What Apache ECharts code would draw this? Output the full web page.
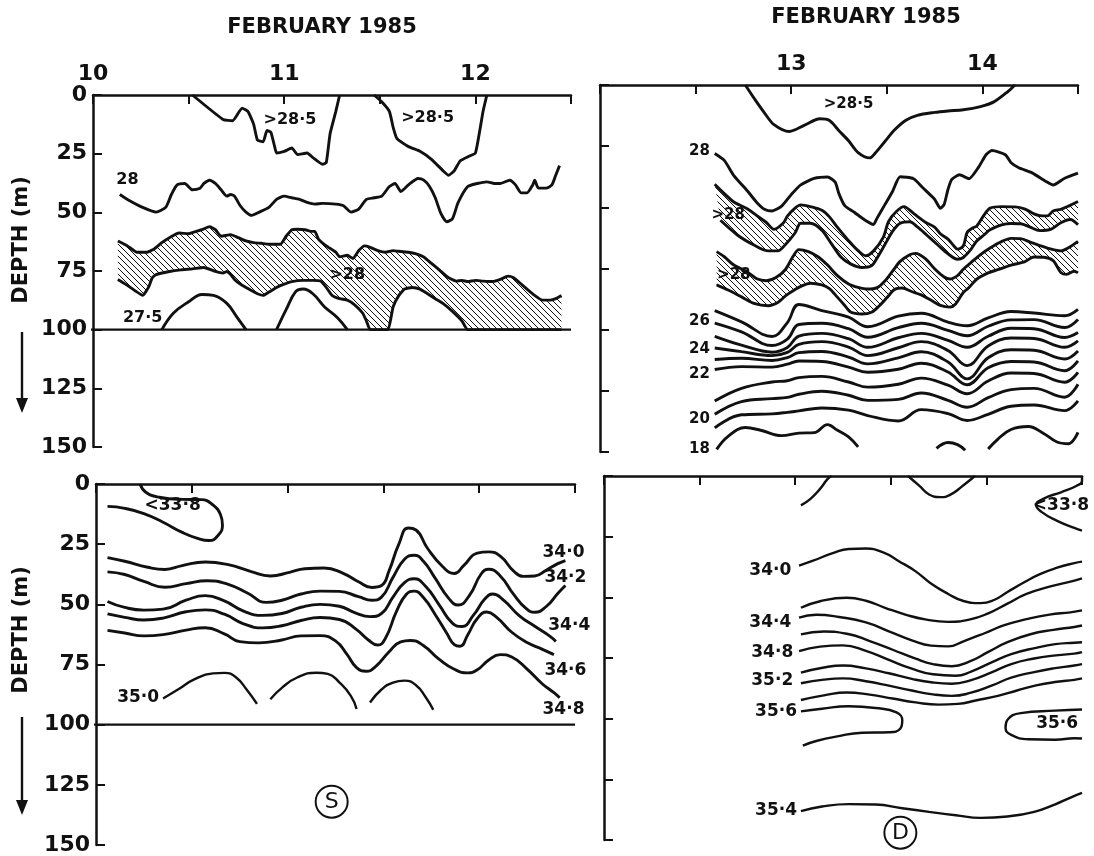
<!DOCTYPE html>
<html><head><meta charset="utf-8">
<script src="https://cdn.jsdelivr.net/npm/echarts/dist/echarts.min.js"></script>
<style>html,body{margin:0;padding:0;background:#fff}#c{width:1094px;height:856px}</style>
</head><body><div id="c"></div>
<script>
// ---------- tick labels ----------
const S_DAY_LABELS = ['10','11','12'];
const D_DAY_LABELS = ['13','14'];
const TITLE = 'FEBRUARY 1985';
const DEPTH_NAME = 'DEPTH (m)';

// ---------- Station S, temperature (Feb 10-12.5) ----------
const S_T285_A = [[10.52,0],[10.68,10.4],[10.73,11],[10.78,5.6],[10.81,7],[10.84,12.4],[10.86,19.2],[10.89,19.9],[10.91,15.1],[10.93,15.8],[10.95,22],[10.96,24.7],[11.00,24],[11.04,22.6],[11.07,25.4],[11.12,24.7],[11.15,26.7],[11.20,29.5],[11.22,28.8],[11.24,16.5],[11.27,7],[11.29,0]];
const S_T285_B = [[11.47,0],[11.51,2.9],[11.55,7],[11.57,13.8],[11.59,18.6],[11.65,22],[11.71,24],[11.77,27.4],[11.83,32.2],[11.86,34.2],[11.89,32.2],[11.92,28.1],[11.97,26],[12.00,24.7],[12.02,16.5],[12.04,7],[12.06,0]];
const S_T28 = [[10.14,42.4],[10.18,44.5],[10.26,47.9],[10.33,49.9],[10.38,47.9],[10.41,42.4],[10.44,38.3],[10.48,37.7],[10.52,40.4],[10.56,39.7],[10.58,37.7],[10.61,36.3],[10.64,37.7],[10.67,40.4],[10.70,43.1],[10.72,42.4],[10.74,43.1],[10.77,47.2],[10.80,49.9],[10.83,51.3],[10.87,49.9],[10.92,47.9],[10.96,44.5],[11.00,43.1],[11.04,43.8],[11.08,44.5],[11.12,45.8],[11.16,46.5],[11.20,46.2],[11.27,46.5],[11.31,47.2],[11.35,49.9],[11.39,48.6],[11.43,44.5],[11.47,43.8],[11.51,43.1],[11.55,39],[11.58,37.7],[11.61,41.1],[11.65,38.3],[11.70,35.6],[11.73,36.3],[11.76,39],[11.79,43.8],[11.82,50.6],[11.85,54],[11.88,52.7],[11.91,45.8],[11.96,39],[12.01,37.7],[12.06,37],[12.10,37.7],[12.13,37.7],[12.18,36.3],[12.21,38.3],[12.24,41.7],[12.27,41.7],[12.30,38.3],[12.31,36.3],[12.33,39.7],[12.37,39.7],[12.40,38.3],[12.42,34.2],[12.44,30.1]];
const S_BAND_UP = [[10.13,62.2],[10.18,64.3],[10.23,67],[10.28,67],[10.32,65.6],[10.36,62.9],[10.40,60.8],[10.45,58.8],[10.50,59.1],[10.54,58.1],[10.57,57.4],[10.61,56.1],[10.64,57.4],[10.67,60.2],[10.72,59.5],[10.76,60.8],[10.80,62.2],[10.84,62.9],[10.88,63.2],[10.92,63.6],[10.98,63.6],[11.01,60.2],[11.04,57.4],[11.07,57.2],[11.11,57.4],[11.14,58.1],[11.16,58.1],[11.18,61.5],[11.22,64.3],[11.27,67],[11.29,69],[11.33,68.3],[11.36,69.7],[11.39,66.3],[11.42,64.3],[11.45,64.9],[11.49,66.3],[11.53,67],[11.57,66.3],[11.61,66.7],[11.65,67],[11.69,67.7],[11.73,69],[11.75,70.4],[11.78,72.4],[11.82,75.2],[11.86,77.9],[11.90,79.3],[11.93,79],[11.96,79.5],[12.00,79],[12.04,79.3],[12.09,79.5],[12.13,78.6],[12.17,77.2],[12.20,77.9],[12.23,79.9],[12.27,82.7],[12.31,85.4],[12.35,87.4],[12.39,87.4],[12.42,86.8],[12.45,85.4]];
const S_BAND_LO = [[10.13,78.6],[10.17,80.6],[10.22,83.4],[10.26,85.4],[10.29,82],[10.31,77.9],[10.33,76.5],[10.40,75.2],[10.46,74.5],[10.52,74.1],[10.58,73.5],[10.64,75.2],[10.68,75.9],[10.70,75.2],[10.72,76.5],[10.74,78.6],[10.77,80.6],[10.80,82],[10.83,83.4],[10.86,84.7],[10.89,85.4],[10.92,84],[10.96,82],[11.00,80.6],[11.04,79.5],[11.10,79],[11.15,79],[11.19,79.3],[11.22,82],[11.25,85.4],[11.29,86.8],[11.33,87.4],[11.37,89.5],[11.41,92.9],[11.43,96.3],[11.45,100],[11.54,100],[11.57,90.2],[11.60,85.4],[11.63,82.7],[11.67,82],[11.71,82.7],[11.75,84.7],[11.79,86.8],[11.83,88.8],[11.88,92.2],[11.93,96.3],[11.96,100],[12.45,100]];
const S_T275_A = [[10.36,100],[10.42,93],[10.50,88.1],[10.57,85],[10.63,85.4],[10.70,88.8],[10.75,94.3],[10.80,100]];
const S_T275_B = [[10.96,100],[11.01,91.5],[11.06,83.8],[11.10,82.7],[11.15,84.7],[11.21,90.2],[11.28,95],[11.33,100]];
const S_BOTTOM = [[9.93,100],[12.5,100]];
const S_T_LABELS = [['28',10.18,36],['>28·5',11.03,10.4],['>28·5',11.75,9.7],['>28',11.33,76.5],['27·5',10.26,95]];

// ---------- Station D, temperature (Feb 12-14.5) ----------
const D_T285 = [[12.76,0],[12.81,5.9],[12.86,11.4],[12.91,16.2],[12.99,19],[13.07,16.4],[13.15,13.8],[13.20,14.5],[13.25,18.7],[13.30,22.8],[13.35,27.6],[13.41,29.8],[13.44,27.8],[13.49,23.1],[13.54,18.4],[13.60,14.4],[13.66,12.4],[13.75,11.2],[13.82,10.6],[13.90,10.1],[13.99,8.8],[14.06,6.9],[14.13,2.9],[14.17,0]];
const D_T28 = [[12.6,28],[12.65,30.8],[12.70,37],[12.77,43.2],[12.82,48],[12.86,50.8],[12.90,51.5],[12.95,49.5],[13.0,44.8],[13.05,40.8],[13.12,38.2],[13.19,37.6],[13.23,39.7],[13.25,44.5],[13.28,49.3],[13.33,52],[13.38,54.9],[13.43,57],[13.45,54.3],[13.49,48.9],[13.53,43.5],[13.57,37.5],[13.64,38.3],[13.69,42.1],[13.75,46.7],[13.78,50.4],[13.80,48.8],[13.82,42.7],[13.84,38.6],[13.88,36.7],[13.93,38.3],[13.98,33.6],[14.02,28.4],[14.05,26.8],[14.12,28.5],[14.15,31.8],[14.19,33.8],[14.26,35.9],[14.33,39.3],[14.37,40.9],[14.43,38.1],[14.5,36]];
const D_BAND1_UP = [[12.6,40.6],[12.65,44.4],[12.70,47.8],[12.77,50.6],[12.82,53.4],[12.87,56.2],[12.91,59],[12.96,56.3],[12.98,53.6],[13.02,50.3],[13.05,49],[13.10,49.7],[13.16,51.2],[13.20,53.9],[13.24,58],[13.30,63.6],[13.35,67.7],[13.39,69.8],[13.43,67.9],[13.48,62.5],[13.51,55.7],[13.55,51.7],[13.59,49.7],[13.64,52.5],[13.70,56],[13.75,58.1],[13.78,60.8],[13.82,63],[13.85,65.7],[13.87,67.1],[13.90,65.8],[13.92,60.3],[13.95,58.4],[13.97,57.7],[14.01,53],[14.04,50.3],[14.10,49.7],[14.17,49.8],[14.22,50.6],[14.27,52.7],[14.30,53.4],[14.34,53.5],[14.37,51.5],[14.41,50.8],[14.45,49.5],[14.5,47.6]];
const D_BAND1_LO = [[12.63,55.3],[12.72,61.4],[12.81,65.6],[12.88,67.8],[12.93,67.8],[12.97,65.2],[13.02,60.5],[13.05,56.5],[13.10,56.5],[13.16,59.3],[13.21,64.8],[13.26,70.3],[13.31,73.1],[13.37,74.6],[13.42,73.9],[13.45,70.6],[13.49,65.2],[13.53,59.8],[13.57,56.5],[13.62,55.9],[13.66,58],[13.71,61.4],[13.77,65.6],[13.82,69],[13.87,71.2],[13.90,70.5],[13.94,67.2],[13.97,63.8],[14.01,61.2],[14.04,59.2],[14.10,57.2],[14.15,56.6],[14.20,56.7],[14.25,58.1],[14.30,59.5],[14.36,58.9],[14.41,56.3],[14.46,55],[14.5,57.1]];
const D_BAND2_UP = [[12.61,68.1],[12.65,70.2],[12.70,73.6],[12.77,76.4],[12.82,79.2],[12.87,80],[12.92,78.7],[12.97,75.4],[13.01,70],[13.04,67.3],[13.09,68.1],[13.14,70.2],[13.19,73.6],[13.24,77.8],[13.30,81.3],[13.35,82.7],[13.40,83.4],[13.45,82.8],[13.49,80.1],[13.53,76.1],[13.57,72.1],[13.62,69.4],[13.65,68.8],[13.70,70.9],[13.75,75.1],[13.80,78.5],[13.83,79.3],[13.87,77.9],[13.90,75.3],[13.94,72.6],[13.99,69.3],[14.04,66.6],[14.10,64],[14.15,62.7],[14.20,62.8],[14.25,64.2],[14.30,65.6],[14.36,67.1],[14.41,67.8],[14.45,66.5],[14.5,63.9]];
const D_BAND2_LO = [[12.61,81.7],[12.67,83.8],[12.74,86.6],[12.81,89.4],[12.88,90.2],[12.93,88.9],[12.97,86.2],[13.02,83.6],[13.05,82.3],[13.10,81],[13.16,81.7],[13.20,83.2],[13.24,86.6],[13.28,90.1],[13.31,92.8],[13.37,93.6],[13.42,92.9],[13.46,90.3],[13.50,87],[13.54,83.6],[13.58,83],[13.63,84.4],[13.68,85.8],[13.73,87.9],[13.78,90.1],[13.83,90.8],[13.86,89.5],[13.90,84.8],[13.93,82.8],[13.97,79.4],[14.03,76.8],[14.08,75.5],[14.15,73.6],[14.22,72.3],[14.27,70.3],[14.32,70.4],[14.37,71.8],[14.41,76.6],[14.44,77.4],[14.48,76.1],[14.5,76.8]];
const D_DAYS = [12.60,12.74,12.90,12.98,13.04,13.16,13.30,13.40,13.56,13.68,13.82,13.92,14.03,14.15,14.27,14.43,14.50];
const D_T27 = [92.2,96.8,102.8,97.1,89.7,92.2,94.9,98.8,94.5,93.3,96.9,98.4,95.2,92.6,93.2,94.3,91.7];
const D_T26 = [97.3,100.9,106.5,103.9,97.9,97.4,99.6,103.1,99.2,97.4,100.3,102.5,98.6,96.0,95.9,99.1,95.8];
const D_T25 = [102.7,106.3,109.2,107.3,102.6,101.5,103.7,107.2,103.3,101.5,104.4,107.2,102.7,99.4,99.6,103.2,101.2];
const D_T24 = [107.5,109.0,110.6,109.3,106.0,104.9,107.1,110.6,107.4,104.9,108.5,114.7,106.7,103.4,103.6,107.2,104.6];
const D_T23 = [112.2,111.7,112.6,111.4,109.4,108.9,111.2,114.0,111.5,109.0,113.2,120.1,111.5,108.2,108.4,112.0,108.7];
const D_T22 = [116.3,115.1,115.3,114.1,112.8,113.0,115.3,117.4,116.2,113.7,117.3,122.5,115.6,113.0,113.2,116.8,112.8];
const D_T21 = [129.2,124.0,121.4,120.9,119.6,119.1,121.4,123.5,122.3,119.8,122.7,126.2,121.0,117.7,117.9,121.5,117.5];
const D_T20 = [134.6,129.4,128.2,127.7,126.4,125.2,126.8,128.9,128.5,125.9,128.9,131.7,127.8,124.5,124.0,127.6,122.3];
const D_T19 = [140.1,134.8,134.4,133.8,133.2,132.0,132.9,135.1,137.3,132.7,134.3,137.1,134.6,131.3,130.8,133.1,129.1];
const D_T18_A = [[12.61,148.9],[12.67,143.6],[12.76,140.0],[12.84,141.1],[12.95,143.3],[13.04,142.3],[13.12,142.1],[13.19,138.8],[13.24,141.0],[13.30,143.8],[13.35,147.9]];
const D_T18_B = [[13.76,148.5],[13.82,146.1],[13.87,147.0],[13.91,149.3]];
const D_T18_C = [[14.03,148.8],[14.08,144.8],[14.15,140.8],[14.24,139.6],[14.32,142.4],[14.39,145.9],[14.45,146.6],[14.5,142.0]];
const D_T_LABELS = [['>28·5',13.30,7.9],['28',12.52,26.9],['>28',12.67,53.2],['>28',12.70,77.7],['26',12.52,96.5],['24',12.52,108],['22',12.52,118],['20',12.52,136.6],['18',12.52,148.8]];

// ---------- Station S, salinity ----------
const S_S338 = [[10.23,0],[10.26,3.4],[10.33,5.5],[10.45,6.4],[10.55,6.5],[10.61,8.7],[10.65,12.8],[10.66,17],[10.64,21.1],[10.59,23.5],[10.53,22.6],[10.45,20.1],[10.35,15.9],[10.25,12.3],[10.15,10.1],[10.06,9.3]];
const S_S340 = [[10.06,30.6],[10.15,32.1],[10.27,34.6],[10.36,35.5],[10.45,33.9],[10.57,32.4],[10.69,33.5],[10.81,36.4],[10.91,38.2],[11.01,36.7],[11.09,35.2],[11.19,34.9],[11.29,37.1],[11.37,40.6],[11.44,43],[11.49,42.2],[11.53,36],[11.58,25.1],[11.63,18.3],[11.67,19.1],[11.73,26.7],[11.81,34.4],[11.87,37.2],[11.92,33.8],[11.99,28.7],[12.05,28.2],[12.11,30],[12.18,36.2],[12.23,38.4],[12.29,38.2],[12.35,35.8],[12.41,33.1],[12.45,31.8]];
const S_S342 = [[10.06,36.5],[10.15,37.6],[10.25,40.5],[10.36,42.9],[10.47,41.4],[10.58,40.2],[10.69,41.7],[10.79,45.3],[10.89,49.2],[10.97,48.3],[11.07,45.7],[11.17,44.5],[11.27,44.6],[11.37,46.8],[11.44,48.3],[11.49,47],[11.55,38.8],[11.61,31.3],[11.66,29.6],[11.71,32.2],[11.77,39.1],[11.84,47.4],[11.89,50.3],[11.95,46.2],[12.01,37.4],[12.05,35.4],[12.11,38.2],[12.18,45.9],[12.24,51.4],[12.29,53.3],[12.35,50.9],[12.41,45.5],[12.45,42.2]];
const S_S344 = [[10.06,48.8],[10.15,51.3],[10.25,52.4],[10.35,52],[10.47,48.3],[10.57,46.4],[10.67,48.6],[10.77,52.8],[10.87,54.6],[10.97,53.8],[11.07,51.2],[11.17,50],[11.27,50.8],[11.35,53.4],[11.43,55.1],[11.49,53.8],[11.55,47],[11.61,41],[11.66,39.4],[11.72,42.5],[11.79,50.1],[11.86,57.8],[11.91,59.2],[11.97,54.5],[12.03,47.7],[12.07,45.7],[12.13,48.5],[12.21,54.8],[12.29,59.1],[12.37,63.3],[12.40,65.4]];
const S_S346 = [[10.06,54],[10.15,55.4],[10.25,56.5],[10.35,55.7],[10.47,53.1],[10.57,52.3],[10.67,54.1],[10.77,58.1],[10.87,59.8],[10.97,58.9],[11.07,56.7],[11.17,55.5],[11.27,56.3],[11.36,60.5],[11.42,64.7],[11.47,66.9],[11.51,64.2],[11.57,52.6],[11.62,45.8],[11.66,44.5],[11.71,47.3],[11.77,54.2],[11.83,61.9],[11.87,66.7],[11.90,67.4],[11.94,62.7],[11.99,55.9],[12.04,53.2],[12.09,55.3],[12.17,61.6],[12.25,65.9],[12.33,68.7],[12.39,70.9]];
const S_S348 = [[10.06,60.8],[10.15,61.9],[10.25,63.1],[10.35,62.6],[10.47,60.7],[10.57,59.7],[10.67,62.3],[10.75,65.5],[10.85,66],[10.97,64.8],[11.07,63.1],[11.17,63],[11.25,65.2],[11.31,70.8],[11.36,76.3],[11.41,77.8],[11.46,75.8],[11.53,69.7],[11.59,65.6],[11.64,65],[11.71,67.2],[11.79,72.8],[11.87,77],[11.94,78.5],[11.99,77.2],[12.05,73.1],[12.11,70.9],[12.17,71.9],[12.25,76.9],[12.33,83.1],[12.39,86.7],[12.42,88.8]];
const S_S350_A = [[10.35,89.1],[10.43,85.3],[10.51,81.3],[10.61,78.7],[10.67,78.5],[10.73,80.3],[10.79,85.8],[10.84,91.4]];
const S_S350_B = [[10.91,89.4],[10.97,84.7],[11.05,80.4],[11.15,78.4],[11.21,78.9],[11.27,82.4],[11.33,88],[11.36,93.5]];
const S_S350_C = [[11.43,90.8],[11.49,85.4],[11.55,82.5],[11.61,81.7],[11.67,83.6],[11.72,88.5],[11.76,93.8]];
const S_S_LABELS = [['<33·8',10.40,9.1],['34·0',12.44,28.4],['34·2',12.45,38.7],['34·4',12.47,59],['34·6',12.45,77.4],['34·8',12.44,93.6],['35·0',10.22,88.9]];
const S_MARK = ['S',11.23,132];

// ---------- Station D, salinity ----------
const D_S_TOP1 = [[13.03,12.1],[13.08,9.4],[13.13,5.3],[13.17,1.2],[13.19,0]];
const D_S_TOP2 = [[13.59,0],[13.65,4.1],[13.70,7.6],[13.76,8.7],[13.81,7.8],[13.88,3.8],[13.94,0]];
const D_S338 = [[14.5,0],[14.5,2.1],[14.47,4.1],[14.39,6.7],[14.30,9.3],[14.26,12],[14.29,14.9],[14.37,18.5],[14.46,21.4],[14.5,22.5]];
const D_S340 = [[13.02,36.9],[13.09,35],[13.20,31.7],[13.28,30.1],[13.37,29.9],[13.46,31.5],[13.54,35],[13.63,39.3],[13.71,44.3],[13.80,48.6],[13.88,51.5],[13.97,52.4],[14.04,51.1],[14.11,47.8],[14.20,43.7],[14.28,40.4],[14.37,37.8],[14.46,35.9],[14.5,35.3]];
const D_S342 = [[13.03,54.3],[13.13,51.6],[13.27,50.2],[13.37,51.4],[13.47,54.3],[13.58,57.2],[13.68,59.1],[13.80,60.1],[13.91,59.2],[14.01,56.6],[14.11,52.6],[14.21,48.6],[14.34,45.4],[14.44,43.5],[14.5,42.2]];
const D_S344 = [[13.02,58.4],[13.11,57.2],[13.23,58.1],[13.37,60.3],[13.49,64],[13.61,67.7],[13.71,69.9],[13.80,70.2],[13.88,68.1],[13.99,64.8],[14.09,61.6],[14.21,59],[14.33,57.1],[14.44,56.2],[14.5,55.4]];
const D_S346 = [[13.03,65.3],[13.15,64.1],[13.27,65.0],[13.39,68.0],[13.51,71.6],[13.63,75.3],[13.72,77.5],[13.82,78.4],[13.91,76.5],[14.01,72.5],[14.11,68.5],[14.23,65.2],[14.35,63.4],[14.46,62.2],[14.5,61.6]];
const D_S348 = [[13.02,72.2],[13.13,70.3],[13.25,69.8],[13.37,72.1],[13.49,75.8],[13.61,79.4],[13.72,81.7],[13.84,82.3],[13.92,80.6],[14.03,76.7],[14.13,73.4],[14.26,70.8],[14.36,69.3],[14.46,68.7],[14.5,68.5]];
const D_S350 = [[13.03,81.0],[13.15,78.9],[13.25,78.1],[13.37,79.3],[13.49,81.3],[13.61,83.6],[13.72,85.1],[13.82,85.6],[13.92,84.1],[14.03,80.8],[14.13,77.5],[14.25,75.2],[14.35,74.0],[14.46,73.2],[14.5,72.6]];
const D_S352 = [[13.03,85.4],[13.15,83.9],[13.25,83.4],[13.37,84.6],[13.49,86.4],[13.61,88.4],[13.72,90.0],[13.82,90.6],[13.92,89.3],[14.03,86.3],[14.13,83.1],[14.25,80.8],[14.35,79.3],[14.46,78.1],[14.5,77.5]];
const D_S354 = [[13.03,92.3],[13.15,90.4],[13.27,89.2],[13.39,90.1],[13.51,91.7],[13.63,93.3],[13.75,94.2],[13.85,93.9],[13.95,92.4],[14.06,90.6],[14.16,88.4],[14.26,86.3],[14.37,84.8],[14.46,84.0],[14.5,83.4]];
const D_S356_A = [[13.03,97.0],[13.14,95.9],[13.28,94.9],[13.42,95.6],[13.53,97.4],[13.56,100.8],[13.55,104.1],[13.49,105.6],[13.35,105.8],[13.22,107.3],[13.11,109.2],[13.04,111.1]];
const D_S356_B = [[14.5,96.2],[14.36,96.7],[14.18,97.7],[14.11,100.5],[14.10,103.7],[14.13,106.7],[14.22,108.5],[14.36,108.7],[14.46,108.1],[14.5,108.2]];
const D_S354_B = [[13.03,138.1],[13.14,136.2],[13.28,135.2],[13.42,135.4],[13.56,136.9],[13.70,138.4],[13.84,139.8],[13.97,140.9],[14.11,140.3],[14.25,138.4],[14.36,135.3],[14.44,132.5],[14.5,130.6]];
const D_S_LABELS = [['34·0',12.87,38.8],['34·4',12.87,60.2],['34·8',12.88,72.7],['35·2',12.88,84.4],['35·6',12.90,96.9],['35·4',12.90,137.7],['35·6',14.37,102.2],['<33·8',14.39,12.3]];
const D_MARK = ['D',13.55,147];

// ---------- rendering ----------
const FONT = "'DejaVu Sans', sans-serif";
const INK = '#111';

function makeHatch() {
  const c = document.createElement('canvas'); c.width = 6; c.height = 6;
  const g = c.getContext('2d'); g.strokeStyle = INK; g.lineWidth = 1;
  g.beginPath();
  g.moveTo(-1,-1); g.lineTo(7,7);
  g.moveTo(-1,5); g.lineTo(1,7);
  g.moveTo(5,-1); g.lineTo(7,1);
  g.stroke();
  return c;
}
const HATCH = makeHatch();

function lineS(i, data, smooth, width) {
  return {type:'line', xAxisIndex:i, yAxisIndex:i, data:data, symbol:'none', showSymbol:false,
    smooth:smooth, lineStyle:{color:INK, width:width||2.9}, z:3, silent:true};
}
function rowS(i, depths, smooth) {
  return lineS(i, D_DAYS.map((d,k)=>[d, depths[k]]), smooth);
}
function bandS(i, up, lo) {
  return {type:'custom', xAxisIndex:i, yAxisIndex:i, z:1, silent:true, data:[up[0]],
    renderItem:function(params, api){
      const pts = up.concat(lo.slice().reverse()).map(p=>api.coord(p));
      return {type:'polygon', shape:{points:pts}, style:{fill:{image:HATCH, repeat:'repeat'}, stroke:null}};
    }};
}
function labelS(i, labels, size) {
  return {type:'custom', xAxisIndex:i, yAxisIndex:i, z:6, silent:true,
    data: labels.map(l=>[l[1], l[2]]),
    renderItem:function(params, api){
      const p = api.coord([api.value(0), api.value(1)]);
      return {type:'text', x:p[0], y:p[1], style:{text:labels[params.dataIndex][0], font:'bold '+size+'px '+FONT, fill:INK, align:'center', verticalAlign:'middle'}};
    }};
}
function markS(i, mark) {
  return {type:'custom', xAxisIndex:i, yAxisIndex:i, z:6, silent:true, data:[[mark[1], mark[2]]],
    renderItem:function(params, api){
      const p = api.coord([api.value(0), api.value(1)]);
      return {type:'group', children:[
        {type:'circle', shape:{cx:p[0], cy:p[1], r:16}, style:{fill:'#fff', stroke:INK, lineWidth:2}},
        {type:'text', x:p[0], y:p[1]+1, style:{text:mark[0], font:'22px '+FONT, fill:INK, align:'center', verticalAlign:'middle'}}
      ]};
    }};
}
function xAx(gi, min, labels) {
  return {gridIndex:gi, type:'value', min:min, max:min+2.5, interval:0.5, position:'top',
    axisLine:{show:true, onZero:false, lineStyle:{color:INK, width:2.5}},
    axisTick:{show:true, inside:true, length:9, lineStyle:{color:INK, width:2}},
    axisLabel:{show:!!labels, margin:10, color:INK, fontSize:22, fontWeight:'bold', fontFamily:FONT,
      formatter:function(v){ const s = String(v); return labels && labels.indexOf(s) >= 0 ? s : ''; }},
    splitLine:{show:false}};
}
function yAx(gi, showLabels) {
  return {gridIndex:gi, type:'value', min:0, max:150, interval:25, inverse:true,
    axisLine:{show:true, onZero:false, lineStyle:{color:INK, width:2.5}},
    axisTick:{show:true, inside:true, length:9, lineStyle:{color:INK, width:2}},
    axisLabel:{show:showLabels, margin:6, color:INK, fontSize:22, fontWeight:'bold', fontFamily:FONT},
    splitLine:{show:false}};
}

const series = [
  // S temperature
  bandS(0, S_BAND_UP, S_BAND_LO),
  lineS(0, S_T285_A, 0.15), lineS(0, S_T285_B, 0.15), lineS(0, S_T28, 0.2),
  lineS(0, S_BAND_UP, 0.15), lineS(0, S_BAND_LO, 0.15),
  lineS(0, S_T275_A, 0.4), lineS(0, S_T275_B, 0.4),
  Object.assign(lineS(0, S_BOTTOM, false, 2.2), {clip:false}),
  labelS(0, S_T_LABELS, 16),
  // D temperature
  bandS(1, D_BAND1_UP, D_BAND1_LO), bandS(1, D_BAND2_UP, D_BAND2_LO),
  lineS(1, D_T285, 0.3), lineS(1, D_T28, 0.2),
  lineS(1, D_BAND1_UP, 0.3), lineS(1, D_BAND1_LO, 0.3),
  lineS(1, D_BAND2_UP, 0.3), lineS(1, D_BAND2_LO, 0.3),
  rowS(1, D_T27, 0.4), rowS(1, D_T26, 0.4), rowS(1, D_T25, 0.4), rowS(1, D_T24, 0.4), rowS(1, D_T23, 0.4),
  rowS(1, D_T22, 0.4), rowS(1, D_T21, 0.4), rowS(1, D_T20, 0.4), rowS(1, D_T19, 0.4),
  lineS(1, D_T18_A, 0.4), lineS(1, D_T18_B, 0.4), lineS(1, D_T18_C, 0.4),
  labelS(1, D_T_LABELS, 15),
  // S salinity
  lineS(2, S_S338, 0.5), lineS(2, S_S340, 0.5), lineS(2, S_S342, 0.5), lineS(2, S_S344, 0.5),
  lineS(2, S_S346, 0.5), lineS(2, S_S348, 0.5),
  lineS(2, S_S350_A, 0.5, 2.4), lineS(2, S_S350_B, 0.5, 2.4), lineS(2, S_S350_C, 0.5, 2.4),
  Object.assign(lineS(2, S_BOTTOM, false, 2.2), {clip:false}),
  labelS(2, S_S_LABELS, 17), markS(2, S_MARK),
  // D salinity
  lineS(3, D_S_TOP1, 0.5, 2.4), lineS(3, D_S_TOP2, 0.5, 2.4), lineS(3, D_S338, 0.5, 2.4),
  lineS(3, D_S340, 0.5, 2.4), lineS(3, D_S342, 0.5, 2.4), lineS(3, D_S344, 0.5, 2.4), lineS(3, D_S346, 0.5, 2.4),
  lineS(3, D_S348, 0.5, 2.4), lineS(3, D_S350, 0.5, 2.4), lineS(3, D_S352, 0.5, 2.4), lineS(3, D_S354, 0.5, 2.4),
  lineS(3, D_S356_A, 0.5, 2.4), lineS(3, D_S356_B, 0.5, 2.4), lineS(3, D_S354_B, 0.5, 2.4),
  labelS(3, D_S_LABELS, 17), markS(3, D_MARK)
];

const textStyle = function(size, bold){ return {font:(bold?'bold ':'')+size+'px '+FONT, fill:INK, align:'center', verticalAlign:'middle'}; };
const graphic = [
  {type:'text', x:322, y:28, style:Object.assign({text:TITLE}, textStyle(21, true))},
  {type:'text', x:866, y:18, style:Object.assign({text:TITLE}, textStyle(21, true))},
  {type:'text', x:22, y:240, rotation:Math.PI/2, style:Object.assign({text:DEPTH_NAME}, textStyle(21, true))},
  {type:'line', shape:{x1:22, y1:332, x2:22, y2:404}, style:{stroke:INK, lineWidth:2.4}},
  {type:'polygon', shape:{points:[[16,398],[28,398],[22,413]]}, style:{fill:INK}},
  {type:'text', x:22, y:630, rotation:Math.PI/2, style:Object.assign({text:DEPTH_NAME}, textStyle(21, true))},
  {type:'line', shape:{x1:22, y1:717, x2:22, y2:806}, style:{stroke:INK, lineWidth:2.4}},
  {type:'polygon', shape:{points:[[16,800],[28,800],[22,815]]}, style:{fill:INK}}
];

const chart = echarts.init(document.getElementById('c'), null, {renderer:'canvas', width:1094, height:856});
chart.setOption({
  animation:false,
  backgroundColor:'#fff',
  grid:[
    {left:93, top:95, width:478, height:352},
    {left:600, top:85, width:478, height:367},
    {left:96, top:484, width:479, height:361},
    {left:604, top:476, width:478, height:364}
  ],
  xAxis:[xAx(0, 10, S_DAY_LABELS), xAx(1, 12, D_DAY_LABELS), xAx(2, 10, null), xAx(3, 12, null)],
  yAxis:[yAx(0, true), yAx(1, false), yAx(2, true), yAx(3, false)],
  series:series,
  graphic:graphic
});
</script></body></html>
